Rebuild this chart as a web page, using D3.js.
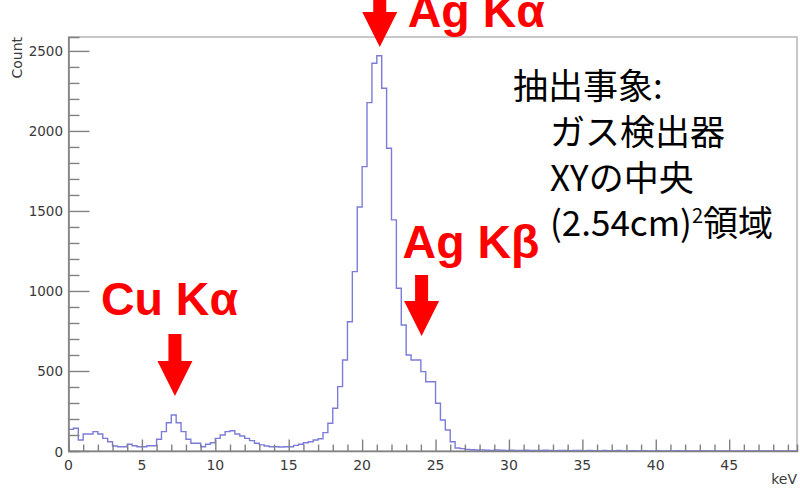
<!DOCTYPE html>
<html>
<head>
<meta charset="utf-8">
<title>Ag / Cu spectrum</title>
<style>
    body { margin: 0; background: #fff; }
    svg { display: block; }
</style>
</head>
<body>
<main></main>
<script src="https://cdn.jsdelivr.net/npm/d3@7/dist/d3.min.js"></script>
<script>
    // data ============================
    var binWidth = 1 / 3;   // keV per bin
    var counts = [
        135, 142, 69, 106, 106, 121, 106, 79, 58, 31,
        27, 27, 42, 33, 27, 27, 33, 33, 73, 121,
        177, 225, 177, 121, 73, 48, 48, 27, 42, 52,
        79, 100, 121, 127, 106, 94, 79, 65, 48, 38,
        31, 27, 27, 25, 27, 27, 35, 42, 52, 58,
        69, 77, 115, 173, 267, 402, 569, 808, 1121, 1525,
        1777, 2177, 2423, 2470, 2267, 1892, 1444, 1017, 787, 600,
        569, 569, 496, 433, 433, 298, 194, 131, 58, 19,
        15, 10, 8, 6, 7, 5, 4, 6, 5, 4,
        5, 3, 4, 5, 3, 4, 3, 5, 3, 2,
        4, 3, 2, 3, 4, 2, 3, 2, 1, 3,
        2, 2, 3, 1, 2, 2, 1, 2, 0, 1,
        2, 1, 0, 1, 2, 0, 1, 1, 0, 2,
        1, 0, 1, 0, 1, 1, 0, 0, 1, 0,
        0, 1, 0, 0, 1, 0, 0, 1, 0
    ];
    var xMajorTicks = [0, 5, 10, 15, 20, 25, 30, 35, 40, 45];
    var yMajorTicks = [0, 500, 1000, 1500, 2000, 2500];
    var xTitle = "keV";
    var yTitle = "Count";

    // peak labels: keV / count of arrow tip
    var peakNames = ["Cu K\u03b1", "Ag K\u03b1", "Ag K\u03b2"];
    var peakEnergy = [7.25, 21.2, 24.05];
    var peakTip = [344, 2525, 719];

    var noteLines = ["抽出事象:", "ガス検出器", "XYの中央", "(2.54cm)"];

    // layout ==========================
    var width = 800;
    var height = 489;
    var frame = {left: 68.5, right: 797, top: 37, bottom: 451};

    var svg = d3.select("main")
        .append("svg")
        .attr("width", width)
        .attr("height", height);

    var x = d3.scaleLinear().domain([0, 49.62]).range([frame.left, frame.right]);
    var y = d3.scaleLinear().domain([0, 2587]).range([frame.bottom, frame.top]);

    // frame ===========================
    svg.append("rect")
        .attr("x", frame.left)
        .attr("y", frame.top)
        .attr("width", frame.right - frame.left)
        .attr("height", frame.bottom - frame.top)
        .attr("fill", "none")
        .attr("stroke", "#aaa")
        .attr("stroke-width", 1.3);

    // histogram =======================
    var pts = counts.map(function (d, i) { return [i * binWidth, d]; });
    pts.push([counts.length * binWidth, counts[counts.length - 1]]);

    var line = d3.line()
        .x(function (d) { return x(Math.min(d[0], 49.62)); })
        .y(function (d) { return y(d[1]); })
        .curve(d3.curveStepAfter);

    svg.append("path")
        .datum(pts)
        .attr("d", line)
        .attr("fill", "none")
        .attr("stroke", "#7c7cd8")
        .attr("stroke-width", 1.4);

    // axes ============================
    var xAxis = d3.axisBottom(x)
        .tickValues(d3.range(0, 50, 1))
        .tickSize(-6.5)
        .tickFormat("");
    var gx = svg.append("g")
        .attr("transform", "translate(0," + frame.bottom + ")")
        .call(xAxis);
    gx.selectAll(".tick line")
        .attr("y2", function (d) { return d % 5 === 0 ? -11.5 : -6.5; });

    var yAxis = d3.axisLeft(y)
        .tickValues(d3.range(0, 2600, 100))
        .tickSize(-11)
        .tickFormat("");
    var gy = svg.append("g")
        .attr("transform", "translate(" + frame.left + ",0)")
        .call(yAxis);
    gy.selectAll(".tick line")
        .attr("x2", function (d) { return d % 500 === 0 ? 21 : 11; });

    svg.selectAll(".domain")
        .attr("stroke", "#808080")
        .attr("stroke-width", 1.6);
    svg.selectAll(".tick line")
        .attr("stroke", "#808080")
        .attr("stroke-width", 1.4);

    // tick labels
    svg.selectAll(".xlab")
        .data(xMajorTicks)
        .enter().append("text")
        .attr("x", function (d) { return x(d); })
        .attr("y", 469.5)
        .attr("text-anchor", "middle")
        .attr("font-family", "DejaVu Sans")
        .attr("font-size", 14)
        .attr("fill", "#3a3a3a")
        .text(function (d) { return d; });

    svg.selectAll(".ylab")
        .data(yMajorTicks)
        .enter().append("text")
        .attr("x", 63)
        .attr("y", function (d) { return y(d) + (d === 0 ? 6 : 5); })
        .attr("text-anchor", "end")
        .attr("font-family", "DejaVu Sans")
        .attr("font-size", 13.5)
        .attr("fill", "#3a3a3a")
        .text(function (d) { return d; });

    // axis titles
    svg.append("text")
        .attr("x", frame.right)
        .attr("y", 484)
        .attr("text-anchor", "end")
        .attr("font-family", "DejaVu Sans")
        .attr("font-size", 14)
        .attr("fill", "#3a3a3a")
        .text(xTitle);

    svg.append("text")
        .attr("transform", "translate(22," + frame.top + ") rotate(-90)")
        .attr("text-anchor", "end")
        .attr("font-family", "DejaVu Sans")
        .attr("font-size", 14)
        .attr("fill", "#3a3a3a")
        .text(yTitle);

    // peak arrows + labels ============
    var labelDx = [-74, 28, -19];
    var labelY = [315, 27, 258];
    var arrowLen = [62, 60, 61];

    peakNames.forEach(function (name, i) {
        var cx = x(peakEnergy[i]);
        var tip = y(peakTip[i]);
        var top = tip - arrowLen[i];
        var headTop = tip - 35;
        var arrow = [
            [cx - 6.5, top], [cx + 6.5, top], [cx + 6.5, headTop], [cx + 17.5, headTop],
            [cx, tip], [cx - 17.5, headTop], [cx - 6.5, headTop]
        ];
        svg.append("polygon")
            .attr("points", arrow.map(function (p) { return p.join(","); }).join(" "))
            .attr("fill", "#ff0000");

        svg.append("text")
            .attr("x", cx + labelDx[i])
            .attr("y", labelY[i])
            .attr("font-family", "Liberation Sans, Arial, sans-serif")
            .attr("font-weight", "bold")
            .attr("font-size", 46.5)
            .attr("fill", "#ff0000")
            .text(name);
    });

    // note text =======================
    var noteX = [513, 550, 550, 550];
    var noteY = [99, 145, 191, 236];
    var note = svg.selectAll(".note")
        .data(noteLines)
        .enter().append("text")
        .attr("x", function (d, i) { return noteX[i]; })
        .attr("y", function (d, i) { return noteY[i]; })
        .attr("font-family", "Noto Sans CJK JP")
        .attr("font-size", 35)
        .attr("fill", "#000")
        .text(function (d) { return d; });

    var last = d3.select(note.nodes()[3]);
    last.append("tspan")
        .attr("font-size", 20)
        .attr("dy", -13)
        .text("2");
    last.append("tspan")
        .attr("dy", 13)
        .text("領域");
</script>
</body>
</html>
